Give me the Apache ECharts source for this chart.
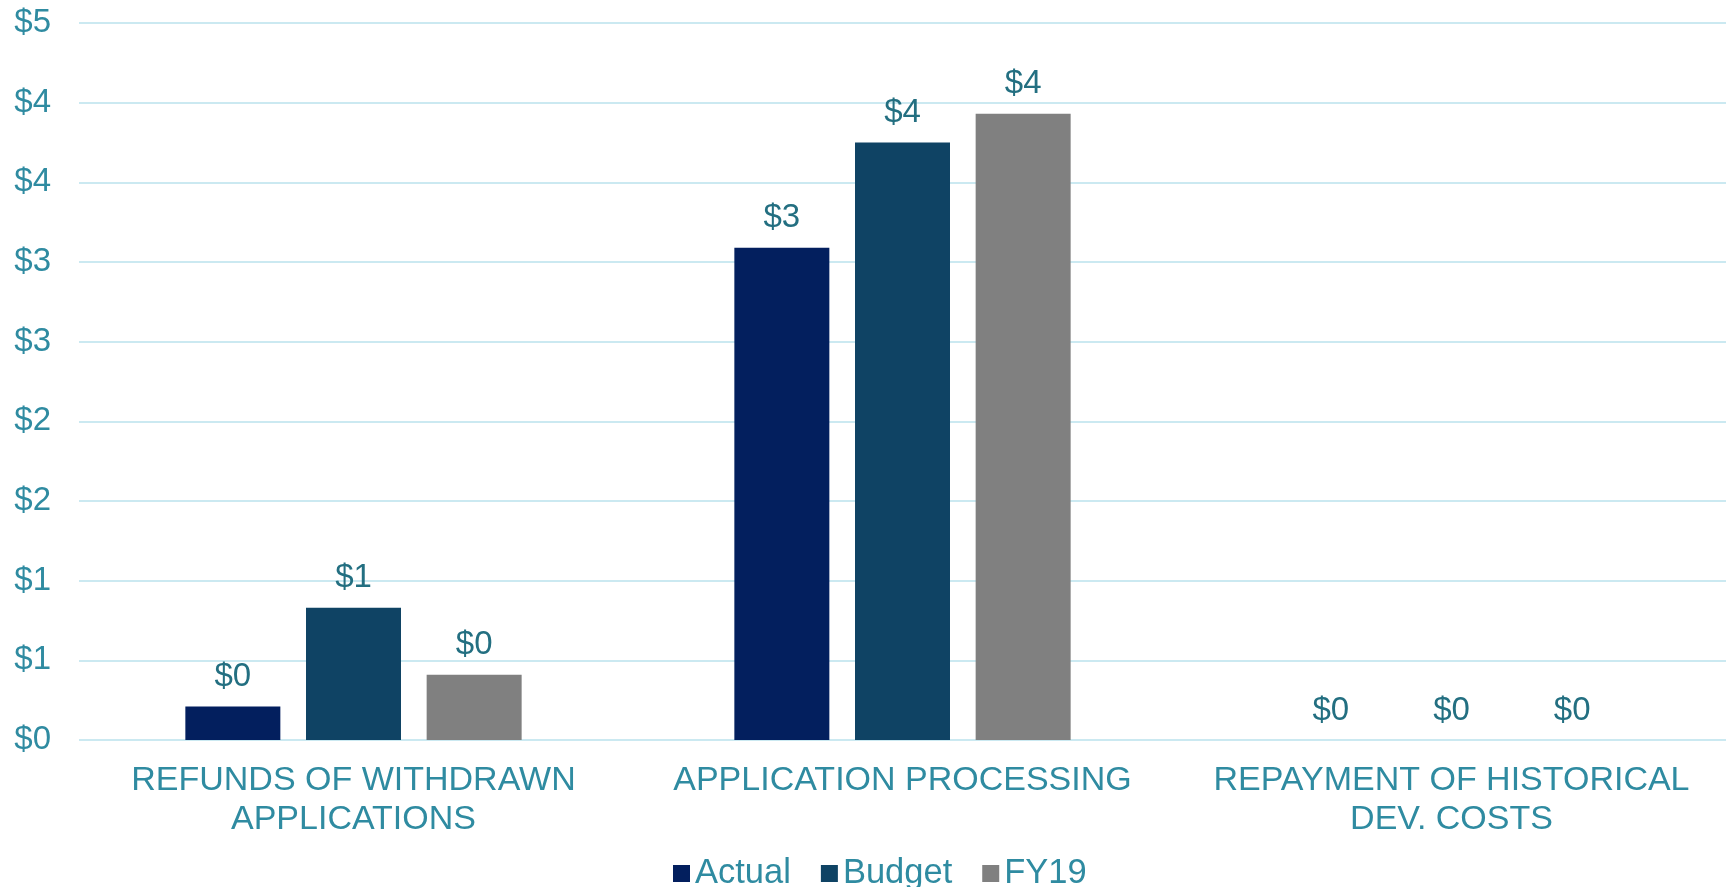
<!DOCTYPE html>
<html>
<head>
<meta charset="utf-8">
<script src="https://cdn.jsdelivr.net/npm/echarts@6/dist/echarts.min.js"></script>
<style>
html,body{margin:0;padding:0;background:#fff;}
#chart{width:1726px;height:887px;}
</style>
</head>
<body>
<div id="chart"></div>
<script>
const categories = ['REFUNDS OF WITHDRAWN\nAPPLICATIONS', 'APPLICATION PROCESSING', 'REPAYMENT OF HISTORICAL\nDEV. COSTS'];
const seriesNames = ['Actual', 'Budget', 'FY19'];
const actualValues = [0.21, 3.09, 0];
const budgetValues = [0.83, 3.75, 0];
const fy19Values = [0.41, 3.93, 0];
const yTicks = { min: 0, max: 4.5, interval: 0.5 };

const colors = ['#031F5E', '#0F4364', '#808080'];
const fontFamily = '"Liberation Sans", Arial, sans-serif';
const axisColor = '#2F8BA1';
const labelColor = '#236F81';
const money = v => '$' + Math.round(v);

const chart = echarts.init(document.getElementById('chart'));
const mkSeries = (name, data, color) => ({
  name, type: 'bar', data,
  barWidth: 95, barGap: '27%',
  itemStyle: { color },
  label: { show: true, position: 'top', distance: 13, formatter: p => money(p.value),
           color: labelColor, fontSize: 33, fontFamily }
});
chart.setOption({
  animation: false,
  grid: { left: 79, right: 0, top: 23, bottom: 147, containLabel: false },
  legend: {
    data: seriesNames, left: 668, top: 851, icon: 'rect',
    itemWidth: 17, itemHeight: 17, itemGap: 30,
    textStyle: { color: axisColor, fontSize: 34.5, fontFamily }
  },
  xAxis: {
    type: 'category', data: categories,
    axisLine: { show: false }, axisTick: { show: false },
    axisLabel: { interval: 0, color: axisColor, fontSize: 34, fontFamily, margin: 21, lineHeight: 39 }
  },
  yAxis: {
    type: 'value', min: yTicks.min, max: yTicks.max, interval: yTicks.interval,
    axisLine: { show: false }, axisTick: { show: false },
    splitLine: { lineStyle: { color: '#CBE9F1', width: 2 } },
    axisLabel: { formatter: money, color: axisColor, fontSize: 33, fontFamily, margin: 28 }
  },
  series: [
    mkSeries(seriesNames[0], actualValues, colors[0]),
    mkSeries(seriesNames[1], budgetValues, colors[1]),
    mkSeries(seriesNames[2], fy19Values, colors[2])
  ]
});
</script>
</body>
</html>
